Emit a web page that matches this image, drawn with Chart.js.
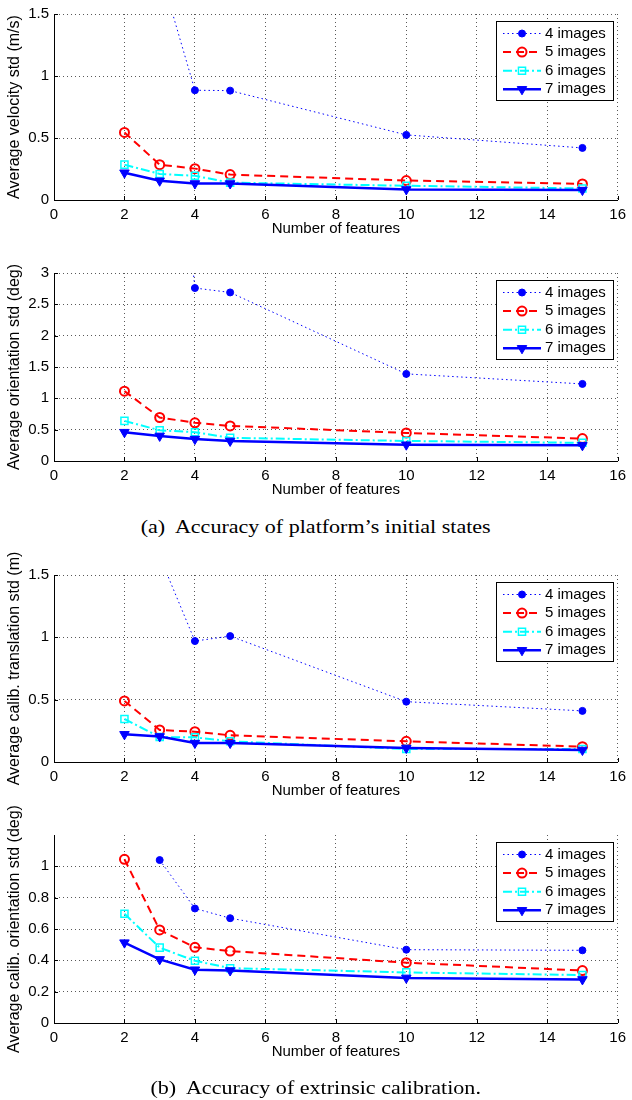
<!DOCTYPE html>
<html>
<head>
<meta charset="utf-8">
<title>Accuracy vs number of features</title>
<script src="https://cdn.jsdelivr.net/npm/chart.js@4.4.1/dist/chart.umd.min.js"></script>
<style>
  html, body { margin: 0; padding: 0; background: #fff; }
  body { width: 632px; height: 1100px; position: relative; overflow: hidden; }
  .panel { position: absolute; left: 0; width: 632px; }
  .caption {
    position: absolute; left: 0; width: 632px; text-align: center;
    font-family: "Liberation Serif", "Times New Roman", serif;
    font-size: 19px; line-height: 22px; color: #000;
    transform: scaleX(1.16); transform-origin: 318px 50%;
  }
</style>
</head>
<body>
<div class="panel" style="top:0px;height:240px"><canvas id="velocity"></canvas></div>
<div class="panel" style="top:243px;height:258px"><canvas id="orientation"></canvas></div>
<div class="caption" style="top:516px">(a)&nbsp; Accuracy of platform’s initial states</div>
<div class="panel" style="top:545px;height:257px"><canvas id="translation"></canvas></div>
<div class="panel" style="top:800px;height:263px"><canvas id="calibOrientation"></canvas></div>
<div class="caption" style="top:1077px">(b)&nbsp; Accuracy of extrinsic calibration.</div>

<script>
// data
var features = [2, 3, 4, 5, 10, 15];
var seriesLabels = ["4 images", "5 images", "6 images", "7 images"];
var xTicks = [0, 2, 4, 6, 8, 10, 12, 14, 16];

// velocity std (m/s)
var velocity4 = [null, 1.86, 0.885, 0.882, 0.525, 0.42];
var velocity5 = [0.545, 0.285, 0.253, 0.205, 0.157, 0.13];
var velocity6 = [0.285, 0.21, 0.195, 0.14, 0.115, 0.093];
var velocity7 = [0.22, 0.155, 0.133, 0.133, 0.085, 0.08];

// orientation std (deg)
var orientation4 = [null, 8.1, 2.76, 2.69, 1.39, 1.23];
var orientation5 = [1.115, 0.694, 0.61, 0.56, 0.448, 0.358];
var orientation6 = [0.64, 0.49, 0.46, 0.37, 0.32, 0.29];
var orientation7 = [0.46, 0.40, 0.35, 0.32, 0.26, 0.25];

// calib. translation std (m)
var translation4 = [null, 1.65, 0.97, 1.01, 0.484, 0.41];
var translation5 = [0.49, 0.257, 0.243, 0.214, 0.166, 0.123];
var translation6 = [0.345, 0.20, 0.198, 0.166, 0.104, 0.104];
var translation7 = [0.222, 0.205, 0.152, 0.152, 0.112, 0.096];

// calib. orientation std (deg)
var calibOrient4 = [null, 1.04, 0.731, 0.669, 0.468, 0.464];
var calibOrient5 = [1.045, 0.594, 0.483, 0.459, 0.385, 0.335];
var calibOrient6 = [0.697, 0.481, 0.397, 0.35, 0.323, 0.306];
var calibOrient7 = [0.513, 0.406, 0.34, 0.335, 0.288, 0.278];

Chart.defaults.font.family = '"Liberation Sans", Arial, sans-serif';
Chart.defaults.font.size = 14;
Chart.defaults.color = "#000";

// line / marker style per series (MATLAB-ish)
var styles = [
    { color: "#0000ff", width: 1, dash: [1.5, 3], point: "circle", radius: 3.5, fill: "#0000ff", pointBorder: 1 },
    { color: "#ff0000", width: 2, dash: [8, 5], point: "circle", radius: 4.5, fill: "rgba(0,0,0,0)", pointBorder: 2 },
    { color: "#00ffff", width: 2, dash: [9, 3, 2, 3], point: "rect", radius: 5, fill: "rgba(0,0,0,0)", pointBorder: 1.5 },
    { color: "#0000ff", width: 2.5, dash: [], point: "triangle", radius: 5.5, fill: "#0000ff", pointBorder: 1 }
];

function toPoints(values) {
    return features.map(function (f, i) {
        return { x: f, y: values[i] };
    });
}

// plain number labels: 1 not 1.0
function plainLabel(value) {
    return String(Math.round(value * 1000) / 1000);
}

function drawMarker(ctx, st, x, y) {
    ctx.save();
    ctx.setLineDash([]);
    ctx.lineWidth = st.pointBorder;
    ctx.strokeStyle = st.color;
    ctx.fillStyle = st.fill;
    ctx.beginPath();
    var r = st.radius;
    if (st.point === "circle") {
        ctx.arc(x, y, r, 0, Math.PI * 2);
    } else if (st.point === "rect") {
        var s = r * Math.SQRT1_2;
        ctx.rect(x - s, y - s, 2 * s, 2 * s);
    } else {
        var dx = r * Math.sin(Math.PI / 3);
        ctx.moveTo(x, y + r);
        ctx.lineTo(x + dx, y - r / 2);
        ctx.lineTo(x - dx, y - r / 2);
        ctx.closePath();
    }
    ctx.fill();
    ctx.stroke();
    ctx.restore();
}

// small ticks pointing into the plot, like MATLAB
var insideTicks = {
    id: "insideTicks",
    afterDatasetsDraw: function (chart) {
        var ctx = chart.ctx, area = chart.chartArea;
        var xs = chart.scales.x, ys = chart.scales.y;
        ctx.save();
        ctx.strokeStyle = "#000";
        ctx.lineWidth = 1;
        ctx.beginPath();
        xs.ticks.forEach(function (t) {
            var px = Math.round(xs.getPixelForValue(t.value)) + 0.5;
            ctx.moveTo(px, area.bottom);
            ctx.lineTo(px, area.bottom - 4);
        });
        ys.ticks.forEach(function (t) {
            var py = Math.round(ys.getPixelForValue(t.value)) + 0.5;
            ctx.moveTo(area.left, py);
            ctx.lineTo(area.left + 4, py);
        });
        ctx.stroke();
        ctx.restore();
    }
};

// boxed legend in the top right corner
var boxLegend = {
    id: "boxLegend",
    afterDraw: function (chart) {
        var ctx = chart.ctx, area = chart.chartArea;
        var w = 117, h = 79, rowH = 18.6;
        var left = Math.round(area.right - 5 - w), top = Math.round(area.top + 7);
        ctx.save();
        ctx.fillStyle = "#fff";
        ctx.fillRect(left, top, w, h);
        ctx.strokeStyle = "#000";
        ctx.lineWidth = 1;
        ctx.strokeRect(left + 0.5, top + 0.5, w, h);
        chart.data.datasets.forEach(function (ds, i) {
            var st = styles[i];
            var cy = top + 12.5 + i * rowH;
            ctx.save();
            ctx.strokeStyle = st.color;
            ctx.lineWidth = st.width;
            ctx.setLineDash(st.dash);
            ctx.beginPath();
            ctx.moveTo(left + 7, cy);
            ctx.lineTo(left + 45, cy);
            ctx.stroke();
            ctx.restore();
            drawMarker(ctx, st, left + 26, cy);
            ctx.fillStyle = "#000";
            ctx.font = '15px "Liberation Sans", Arial, sans-serif';
            ctx.textBaseline = "middle";
            ctx.textAlign = "left";
            ctx.fillText(ds.label, left + 49, cy);
        });
        ctx.restore();
    }
};

function makeChart(id, yTitle, series, yMax, yStep, yTickMax, padTop) {
    var datasets = series.map(function (values, i) {
        var st = styles[i];
        return {
            label: seriesLabels[i],
            data: toPoints(values),
            borderColor: st.color,
            borderWidth: st.width,
            borderDash: st.dash,
            pointStyle: st.point,
            pointRadius: st.radius,
            pointRotation: st.point === "triangle" ? 180 : 0,
            pointBackgroundColor: st.fill,
            pointBorderColor: st.color,
            pointBorderWidth: st.pointBorder,
            tension: 0,
            fill: false,
            order: 4 - i
        };
    });

    return new Chart(document.getElementById(id).getContext("2d"), {
        type: "line",
        data: { datasets: datasets },
        options: {
            responsive: true,
            maintainAspectRatio: false,
            animation: false,
            layout: { padding: { top: padTop, right: 10, left: 0, bottom: 0 } },
            plugins: { legend: { display: false }, tooltip: { enabled: false } },
            scales: {
                x: {
                    type: "linear",
                    min: 0,
                    max: 16,
                    afterBuildTicks: function (s) {
                        s.ticks = xTicks.map(function (v) { return { value: v }; });
                    },
                    afterFit: function (s) { s.height = 40; },
                    ticks: { padding: 6, maxRotation: 0, font: { size: 15 }, callback: plainLabel },
                    grid: { color: "rgba(0,0,0,0.65)", drawTicks: false },
                    border: { display: true, color: "#000", width: 1, dash: [1, 3] },
                    title: {
                        display: true,
                        text: "Number of features",
                        font: { size: 15 },
                        padding: { top: 0, bottom: 2 }
                    }
                },
                y: {
                    type: "linear",
                    min: 0,
                    max: yMax,
                    ticks: { stepSize: yStep, padding: 5, font: { size: 15 }, callback: plainLabel },
                    afterBuildTicks: function (s) {
                        s.ticks = s.ticks.filter(function (t) { return t.value <= yTickMax + 1e-9; });
                    },
                    afterFit: function (s) { s.width = 54; },
                    grid: { color: "rgba(0,0,0,0.65)", drawTicks: false },
                    border: { display: true, color: "#000", width: 1, dash: [1, 3] },
                    title: {
                        display: true,
                        text: yTitle,
                        font: { size: 16 },
                        padding: { top: 5, bottom: 0 }
                    }
                }
            }
        },
        plugins: [insideTicks, boxLegend]
    });
}

makeChart("velocity", "Average velocity std (m/s)",
    [velocity4, velocity5, velocity6, velocity7], 1.5, 0.5, 1.5, 12);
makeChart("orientation", "Average orientation std (deg)",
    [orientation4, orientation5, orientation6, orientation7], 3, 0.5, 3, 30);
makeChart("translation", "Average calib. translation std (m)",
    [translation4, translation5, translation6, translation7], 1.5, 0.5, 1.5, 30);
makeChart("calibOrientation", "Average calib. orientation std (deg)",
    [calibOrient4, calibOrient5, calibOrient6, calibOrient7], 1.2, 0.2, 1, 35);
</script>
</body>
</html>
